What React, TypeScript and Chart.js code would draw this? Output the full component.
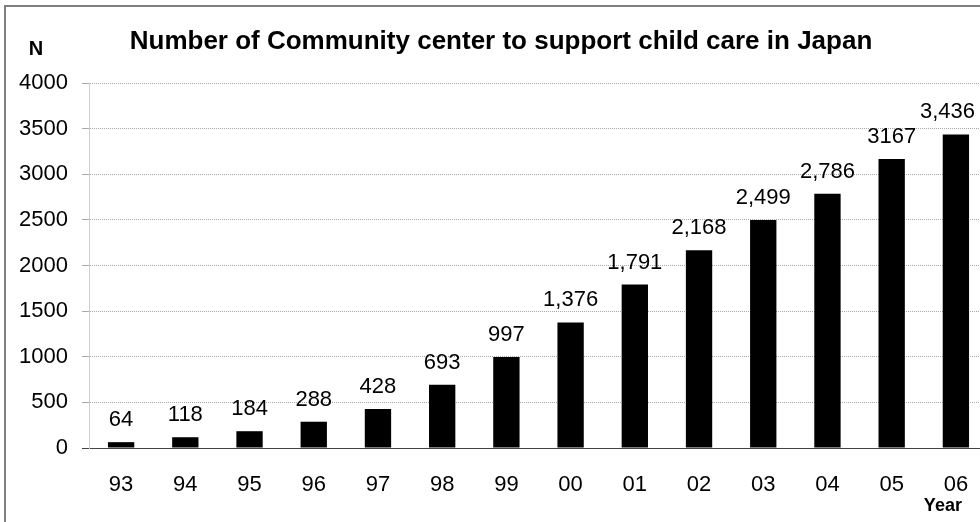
import React, { useEffect, useRef } from "react";
import { Chart, registerables } from "chart.js";

Chart.register(...registerables);

const FONT = "'Liberation Sans', Arial, Helvetica, sans-serif";

const years = ["93", "94", "95", "96", "97", "98", "99", "00", "01", "02", "03", "04", "05", "06"];
const counts = [64, 118, 184, 288, 428, 693, 997, 1376, 1791, 2168, 2499, 2786, 3167, 3436];
const valueLabels = ["64", "118", "184", "288", "428", "693", "997", "1,376", "1,791", "2,168", "2,499", "2,786", "3167", "3,436"];
const yMin = 0;
const yMax = 4000;
const yStep = 500;
const titleText = "Number of Community center to support child care in Japan";
const yUnit = "N";
const xUnit = "Year";

const VISIBLE_WIDTH = 980;

const annotatePlugin = {
  id: "annotate",
  afterDatasetsDraw(chart: any) {
    const ctx = chart.ctx;
    const meta = chart.getDatasetMeta(0);
    ctx.save();
    ctx.fillStyle = "#000";
    ctx.textAlign = "center";
    ctx.textBaseline = "alphabetic";
    ctx.font = `22px ${FONT}`;
    meta.data.forEach((el: any, i: number) => {
      const txt = valueLabels[i];
      const half = ctx.measureText(txt).width / 2;
      const x = Math.min(el.x, VISIBLE_WIDTH - 5 - half);
      ctx.fillText(txt, x, el.y - 16);
    });
    ctx.textBaseline = "middle";
    ctx.font = `bold 26px ${FONT}`;
    ctx.fillText(titleText, 501, 42);
    ctx.font = `bold 20px ${FONT}`;
    ctx.fillText(yUnit, 36, 49);
    ctx.font = `bold 18px ${FONT}`;
    const last = meta.data[meta.data.length - 1];
    ctx.fillText(xUnit, last.x - 13, 506);
    ctx.restore();
  },
};

export default function App() {
  const canvasRef = useRef<HTMLCanvasElement | null>(null);

  useEffect(() => {
    if (!canvasRef.current) return;
    const chart = new Chart(canvasRef.current, {
      type: "bar",
      data: {
        labels: years,
        datasets: [
          {
            data: counts,
            backgroundColor: "#000",
            borderWidth: 0,
            barPercentage: 0.41,
            categoryPercentage: 1,
          },
        ],
      },
      options: {
        animation: false,
        responsive: true,
        maintainAspectRatio: false,
        layout: { padding: { left: 0, top: 83, right: 12, bottom: 0 } },
        plugins: {
          legend: { display: false },
          title: { display: false },
          tooltip: { enabled: false },
        },
        scales: {
          x: {
            grid: { display: false },
            border: { display: true, color: "#444", width: 1 },
            ticks: {
              color: "#000",
              font: { family: FONT, size: 22 },
              padding: 16,
              maxRotation: 0,
              autoSkip: false,
            },
            afterFit(scale: any) {
              scale.height = 74;
            },
          },
          y: {
            min: yMin,
            max: yMax,
            grid: {
              color: (c: any) => (c.tick && c.tick.value === 0 ? "#444" : "#a8a8a8"),
              lineWidth: 1,
              drawTicks: true,
              tickLength: 7,
              borderDash: [1, 1],
            } as any,
            border: { display: true, color: "#d0d0d0", width: 1, dash: [1, 1] } as any,
            ticks: {
              stepSize: yStep,
              color: "#000",
              font: { family: FONT, size: 22 },
              padding: 14,
              callback: (v: any) => String(v),
            },
            afterFit(scale: any) {
              scale.width = 89;
            },
          },
        },
      },
      plugins: [annotatePlugin],
    } as any);
    return () => chart.destroy();
  }, []);

  return (
    <div
      style={{
        position: "fixed",
        left: 0,
        top: 0,
        width: 980,
        height: 522,
        overflow: "hidden",
        background: "#fff",
      }}
    >
      <div
        style={{
          position: "absolute",
          left: 4,
          top: 5,
          width: 1000,
          height: 560,
          border: "2px solid #808080",
          boxSizing: "border-box",
        }}
      />
      <div style={{ position: "absolute", left: 0, top: 0, width: 1000, height: 522 }}>
        <canvas ref={canvasRef} />
      </div>
    </div>
  );
}
